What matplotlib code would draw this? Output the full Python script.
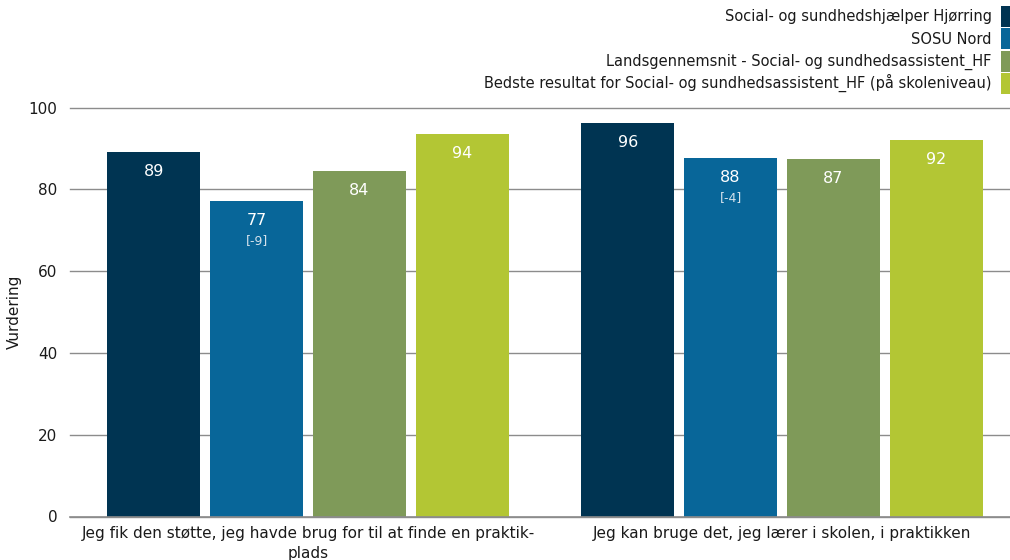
import numpy as np
import matplotlib.pyplot as plt
from matplotlib.patches import Patch

plt.rcParams['font.family'] = ['DejaVu Sans']

categories = [
    'Jeg fik den støtte, jeg havde brug for til at finde en praktik-\nplads',
    'Jeg kan bruge det, jeg lærer i skolen, i praktikken',
]
series_names = [
    'Social- og sundhedshjælper Hjørring',
    'SOSU Nord',
    'Landsgennemsnit - Social- og sundhedsassistent_HF',
    'Bedste resultat for Social- og sundhedsassistent_HF (på skoleniveau)',
]
values = [
    [89.2, 96.2],
    [77.2, 87.6],
    [84.4, 87.4],
    [93.6, 92.0],
]
diff_labels = [None, ['[-9]', '[-4]'], None, None]
colors = ['#003452', '#086699', '#7f9a59', '#b3c634']

TEXT = '#1a1a1a'
GRID = '#8c8c8c'

fig = plt.figure(figsize=(10.1, 5.6), dpi=100)
ax = fig.add_axes([70 / 1010, 1 - 516.5 / 560, 940 / 1010, 409 / 560])

x = np.arange(len(categories))
width = 0.196
step = 0.217

for i, name in enumerate(series_names):
    xs = x + (i - 1.5) * step
    bars = ax.bar(xs, values[i], width=width, color=colors[i], label=name, zorder=3)
    for j, b in enumerate(bars):
        v = values[i][j]
        ax.annotate(f'{v:.0f}', (b.get_x() + b.get_width() / 2, v),
                    xytext=(0, -14), textcoords='offset points',
                    ha='center', va='center', color='white', fontsize=11.5, zorder=4)
        if diff_labels[i] is not None:
            ax.annotate(diff_labels[i][j], (b.get_x() + b.get_width() / 2, v),
                        xytext=(0, -28.5), textcoords='offset points',
                        ha='center', va='center', color='#d5e2ec', fontsize=9, zorder=4)

ax.set_xlim(-0.502, 1.481)
ax.set_ylim(0, 100)
ax.set_yticks(range(0, 101, 20))
ax.yaxis.grid(True, color=GRID, linewidth=1)
for gl in ax.get_ygridlines():
    gl.set_clip_on(False)
ax.axhline(0, color=GRID, linewidth=1.2, clip_on=False, zorder=4)
ax.set_axisbelow(True)
for s in ax.spines.values():
    s.set_visible(False)
ax.tick_params(axis='both', length=0, labelsize=11, labelcolor=TEXT)
ax.tick_params(axis='y', pad=9)
ax.tick_params(axis='x', pad=7)
ax.set_xticks(x)
ax.set_xticklabels(categories, linespacing=1.4)
ax.set_ylabel('Vurdering', fontsize=11, color=TEXT, labelpad=5)

handles = [Patch(facecolor=c, edgecolor='none') for c in colors]
fig.legend(handles, series_names, loc='upper right',
           bbox_to_anchor=(1.0, 1 - 6 / 560), bbox_transform=fig.transFigure,
           frameon=False, markerfirst=False, fontsize=10.5, labelcolor=TEXT,
           borderpad=0, borderaxespad=0, handlelength=0.65, handleheight=1.83,
           handletextpad=0.6, labelspacing=0.1)

fig.savefig('out.png', dpi=100)
